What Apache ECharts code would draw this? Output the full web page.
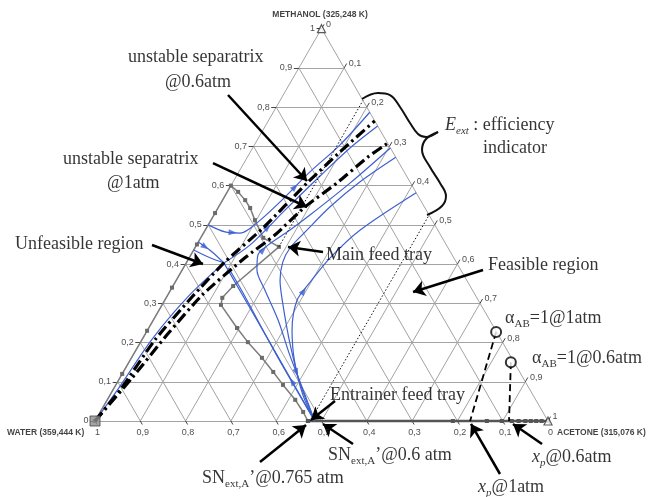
<!DOCTYPE html>
<html>
<head>
<meta charset="utf-8">
<script src="https://cdn.jsdelivr.net/npm/echarts@6/dist/echarts.min.js"></script>
<style>
  html, body { margin: 0; padding: 0; background: #fff; }
  #chart { width: 649px; height: 497px; }
</style>
</head>
<body>
<div id="chart"></div>
<script>
// Compositions are [x_acetone, x_methanol]; x_water = 1 - both.
const ticks = [0, 0.1, 0.2, 0.3, 0.4, 0.5, 0.6, 0.7, 0.8, 0.9, 1];
const tickText = ['0', '0,1', '0,2', '0,3', '0,4', '0,5', '0,6', '0,7', '0,8', '0,9', '1'];

// Column composition profile (grey squares)
const grayProfile = [
  [0, 0], [0, 0.12], [0, 0.23], [0, 0.34], [0, 0.45], [0, 0.53], [0, 0.60],
  [0.024, 0.584], [0.050, 0.563], [0.071, 0.543], [0.097, 0.512], [0.138, 0.467], [0.184, 0.444],
  [0.133, 0.344], [0.124, 0.314], [0.130, 0.296],
  [0.195, 0.237], [0.237, 0.201], [0.288, 0.161], [0.331, 0.125], [0.369, 0.092],
  [0.415, 0.054], [0.448, 0.023], [0.470, 0.0]
];
const baseProfile = [
  [0.47, 0], [0.79, 0], [0.865, 0], [0.898, 0], [0.92, 0], [0.935, 0],
  [0.95, 0], [0.962, 0], [0.974, 0], [0.986, 0], [1, 0]
];

// Unstable separatrices
const separatrix06 = [
  [0, 0], [0.016, 0.079], [0.029, 0.207], [0.056, 0.316], [0.084, 0.405],
  [0.125, 0.492], [0.165, 0.607], [0.198, 0.686], [0.235, 0.765]
];
const separatrix1 = [
  [0, 0], [0.027, 0.110], [0.049, 0.219], [0.076, 0.321], [0.123, 0.416],
  [0.160, 0.474], [0.191, 0.546], [0.231, 0.607], [0.266, 0.673], [0.292, 0.708]
];

// Residue / extractive section curves
const blueEdge = [[0, 0], [0.010, 0.08], [0.022, 0.21], [0.048, 0.32], [0.083, 0.403]];
const blueFromEdgeA = [[0, 0.456], [0.043, 0.431], [0.083, 0.403]];
const blueFromEdgeB = [[0, 0.436], [0.046, 0.416], [0.083, 0.403]];
const blueUpper = [
  [0, 0.500], [0.046, 0.482], [0.081, 0.479], [0.106, 0.507], [0.129, 0.558],
  [0.157, 0.635], [0.189, 0.704], [0.213, 0.787]
];
const blueMid = [[0.083, 0.403], [0.118, 0.449], [0.151, 0.538], [0.185, 0.625], [0.215, 0.696], [0.248, 0.752]];
const blueF1 = [[0.485, 0], [0.285, 0.201], [0.083, 0.403]];
const blueF1b = [[0.485, 0], [0.31, 0.175], [0.16, 0.33], [0.10, 0.39]];
const blueF2 = [
  [0.485, 0], [0.420, 0.079], [0.346, 0.168], [0.275, 0.258], [0.208, 0.334], [0.165, 0.385],
  [0.148, 0.423], [0.158, 0.449], [0.187, 0.487], [0.212, 0.525], [0.260, 0.607], [0.304, 0.696]
];
const blueF2b = [
  [0.485, 0], [0.404, 0.097], [0.334, 0.194], [0.267, 0.296], [0.229, 0.359], [0.212, 0.405],
  [0.210, 0.441], [0.223, 0.482], [0.246, 0.546], [0.280, 0.609], [0.328, 0.672]
];
const blueF3 = [
  [0.485, 0], [0.426, 0.066], [0.362, 0.156], [0.319, 0.232], [0.292, 0.308],
  [0.298, 0.354], [0.311, 0.416], [0.342, 0.487], [0.418, 0.582]
];
const blueCurves = [blueEdge, blueFromEdgeA, blueFromEdgeB, blueUpper, blueMid, blueF1, blueF1b, blueF2, blueF2b, blueF3];
const curveArrows = [
  { curve: blueUpper, seg: 1, back: false },
  { curve: blueUpper, seg: 4, back: false },
  { curve: blueMid, seg: 1, back: false },
  { curve: blueF3, seg: 4, back: false },
  { curve: blueF2, seg: 6, back: false },
  { curve: blueF1, seg: 0, back: false },
  { curve: blueF2, seg: 1, back: true },
  { curve: blueFromEdgeA, seg: 0, back: false }
];

// Main feed / entrainer feed bounds of the extractive section
const feedLine = [[0.184, 0.444], [0.183, 0.817]];
const entrainerLine = [[0.475, 0], [0.475, 0.525]];

// Distillate points and alpha_AB = 1 curve ends
const xp1atm = [[0.772, 0.227], [0.828, 0]];
const xp06atm = [[0.843, 0.150], [0.914, 0]];
const alphaPoints = [[0.772, 0.227], [0.843, 0.150]];

// Annotation layout, in plane units (side of the triangle = 1)
const annotationArrows = [
  [[0.2936, 0.7196], [0.4680, 0.5298]],
  [[0.2605, 0.5695], [0.4680, 0.4724]],
  [[0.1258, 0.3885], [0.2384, 0.3466]],
  [[0.5033, 0.3731], [0.4260, 0.3841]],
  [[0.8565, 0.3333], [0.7020, 0.2848]],
  [[0.5298, 0.0442], [0.4768, 0.0022]],
  [[0.3642, -0.0905], [0.4658, -0.0088]],
  [[0.5695, -0.0508], [0.5033, -0.0066]],
  [[0.8940, -0.1170], [0.8300, -0.0066]],
  [[0.9868, -0.0508], [0.9227, -0.0066]]
];
const braceTop = [
  [0.5894, 0.7108], [0.6247, 0.7241], [0.6512, 0.7196], [0.6733, 0.6932], [0.6954, 0.6578],
  [0.7130, 0.6336], [0.7307, 0.6269], [0.7572, 0.6380]
];
const braceBottom = [
  [0.7572, 0.6380], [0.7307, 0.6225], [0.7219, 0.5982], [0.7395, 0.5607], [0.7616, 0.5254],
  [0.7748, 0.4967], [0.7660, 0.4746], [0.7329, 0.4547]
];
const annotations = [
  { text: '{t|unstable separatrix}', at: [0.0728, 0.8035] },
  { text: '{t|@0.6atm}', at: [0.1545, 0.7483] },
  { text: '{t|unstable separatrix}', at: [-0.0706, 0.5784] },
  { text: '{t|@1atm}', at: [0.0265, 0.5254] },
  { text: '{t|Unfeasible region}', at: [-0.1766, 0.3907] },
  { text: '{t|Main feed tray}', at: [0.5099, 0.3664] },
  { text: '{t|Feasible region}', at: [0.8675, 0.3444] },
  { text: '{t|Entrainer feed tray}', at: [0.5188, 0.0574] },
  { text: '{ti|E}{si|ext}{t| : efficiency}', at: [0.7726, 0.6534] },
  { text: '{t|indicator}', at: [0.8565, 0.6026] },
  { text: '{t|α}{s|AB}{t|=1@1atm}', at: [0.9051, 0.2274] },
  { text: '{t|α}{s|AB}{t|=1@0.6atm}', at: [0.9647, 0.1391] },
  { text: '{t|SN}{s|ext,A}{t|’@0.6 atm}', at: [0.5143, -0.0751] },
  { text: '{t|SN}{s|ext,A}{t|’@0.765 atm}', at: [0.2362, -0.1258] },
  { text: '{ti|x}{si|p}{t|@0.6atm}', at: [0.9647, -0.0795] },
  { text: '{ti|x}{si|p}{t|@1atm}', at: [0.8455, -0.1457] }
];
const vertexNames = [
  { text: 'METHANOL (325,248 K)', at: [0.4967, 0.8962], align: 'center' },
  { text: 'WATER (359,444 K)', at: [-0.1943, -0.0265], align: 'left' },
  { text: 'ACETONE (315,076 K)', at: [1.0199, -0.0265], align: 'left' }
];

// ---- geometry ----
const SQ3 = Math.sqrt(3);
const SIDE = 453;           // px length of one side of the triangle
const ORIGIN = [95, 421];   // px position of the water vertex
const WIDTH = 649, HEIGHT = 497;
const toXY = ([a, m]) => [a + m / 2, m * SQ3 / 2];
const px = v => v / SIDE;

const gridSegs = [];
ticks.filter(t => t < 1).forEach(t => {
  gridSegs.push({ coords: [toXY([0, t]), toXY([1 - t, t])] });       // methanol = t
  gridSegs.push({ coords: [toXY([t, 0]), toXY([t, 1 - t])] });       // acetone = t
  gridSegs.push({ coords: [toXY([1 - t, 0]), toXY([0, 1 - t])] });   // water = t
});

const TL = px(5);
const tickSegs = [];
const tickLabelsLeft = [], tickLabelsRight = [], tickLabelsBottom = [];
ticks.forEach((t, i) => {
  const pL = toXY([0, t]);
  tickSegs.push({ coords: [pL, [pL[0] - TL, pL[1]]] });
  tickLabelsLeft.push({ value: [pL[0] - TL - px(1.5), pL[1]], name: tickText[i] });

  const pR = toXY([t, 1 - t]);
  const eR = [pR[0] + TL * 0.5, pR[1] + TL * SQ3 / 2];
  tickSegs.push({ coords: [pR, eR] });
  tickLabelsRight.push({ value: [eR[0] + px(2), eR[1]], name: tickText[i] });

  const pB = toXY([1 - t, 0]);
  const eB = [pB[0] + TL * 0.4, pB[1] - TL * 0.7];
  tickSegs.push({ coords: [pB, eB] });
  tickLabelsBottom.push({ value: [pB[0] + px(2.5), pB[1] - px(12)], name: tickText[i] });
});

const arrowMarks = curveArrows.map(({ curve, seg, back }) => {
  const p = toXY(curve[seg]), q = toXY(curve[seg + 1]);
  let ang = Math.atan2(q[1] - p[1], q[0] - p[0]) * 180 / Math.PI;
  if (back) ang += 180;
  return { value: [(p[0] + q[0]) / 2, (p[1] + q[1]) / 2], symbolRotate: ang - 90 };
});

const BLUE = '#3e60cf';
const INK = '#000';
const serif = 'Liberation Serif';
const sans = 'Liberation Sans';

const plainLine = (data, style, extra) => Object.assign({
  type: 'line', data: data.map(toXY), showSymbol: false, clip: false, silent: true,
  lineStyle: style, animation: false
}, extra || {});

const textSeries = (data, labelOpts, rich) => ({
  type: 'scatter', data, symbol: 'circle', symbolSize: 0.1, clip: false, silent: true,
  itemStyle: { color: 'rgba(0,0,0,0)' }, animation: false, z: 10,
  label: Object.assign({ show: true, formatter: p => p.name, rich: rich || {} }, labelOpts)
});

const richText = {
  t: { fontFamily: serif, fontSize: 18, color: INK, lineHeight: 26 },
  ti: { fontFamily: serif, fontSize: 18, fontStyle: 'italic', color: INK, lineHeight: 26 },
  s: { fontFamily: serif, fontSize: 11, color: INK, lineHeight: 12, padding: [12, 0, 0, 0] },
  si: { fontFamily: serif, fontSize: 11, fontStyle: 'italic', color: INK, lineHeight: 12, padding: [12, 0, 0, 0] }
};

const series = [
  { type: 'lines', coordinateSystem: 'cartesian2d', data: gridSegs, silent: true, animation: false,
    lineStyle: { color: '#a3a3a3', width: 1, opacity: 1 }, z: 1 },
  { type: 'lines', coordinateSystem: 'cartesian2d', data: tickSegs, silent: true, animation: false,
    lineStyle: { color: '#444', width: 1, opacity: 1 }, z: 1 },

  plainLine(grayProfile, { color: '#7d7d7d', width: 1.5 }, {
    showSymbol: true, symbol: 'rect', symbolSize: 4, itemStyle: { color: '#6b6b6b' }, z: 2 }),
  plainLine(baseProfile, { color: '#555', width: 2.5 }, {
    showSymbol: true, symbol: 'rect', symbolSize: 4, itemStyle: { color: '#555' }, z: 2 }),

  ...blueCurves.map(c => plainLine(c, { color: BLUE, width: 1.2 }, { smooth: 0.3, z: 3 })),
  { type: 'scatter', data: arrowMarks, symbol: 'triangle', symbolSize: [6, 8], clip: false,
    silent: true, animation: false, itemStyle: { color: BLUE }, z: 3 },

  plainLine(separatrix06, { color: '#000', width: 3.2, type: [11, 4, 2.5, 4] }, { smooth: 0.2, z: 4 }),
  plainLine(separatrix1, { color: '#000', width: 3.2, type: [11, 4, 2.5, 4] }, { smooth: 0.2, z: 4 }),

  plainLine(feedLine, { color: '#111', width: 1, type: [1.5, 2] }, { z: 4 }),
  plainLine(entrainerLine, { color: '#111', width: 1, type: [1.5, 2] }, { z: 4 }),
  plainLine(xp1atm, { color: '#000', width: 1.8, type: [7, 4] }, { z: 4 }),
  plainLine(xp06atm, { color: '#000', width: 1.8, type: [7, 4] }, { z: 4 }),

  { type: 'scatter', data: alphaPoints.map(toXY), symbol: 'circle', symbolSize: 10, clip: false,
    silent: true, animation: false, itemStyle: { color: '#fff', borderColor: '#000', borderWidth: 2 }, z: 6 },
  { type: 'scatter', data: [toXY([0, 0])], symbol: 'rect', symbolSize: 10, clip: false, silent: true,
    animation: false, itemStyle: { color: '#8e8e8e', borderColor: '#444', borderWidth: 1 }, z: 6 },
  { type: 'scatter', data: [toXY([0, 1]), toXY([1, 0])], symbol: 'triangle', symbolSize: 8, clip: false,
    silent: true, animation: false, itemStyle: { color: '#fff', borderColor: '#333', borderWidth: 1.2 }, z: 6 },

  { type: 'lines', coordinateSystem: 'cartesian2d', silent: true, animation: false, z: 7,
    data: annotationArrows.map(c => ({ coords: c })), symbol: ['none', 'arrow'], symbolSize: 12,
    lineStyle: { color: '#000', width: 2.5, opacity: 1 } },
  { type: 'line', data: braceTop, smooth: 0.4, showSymbol: false, clip: false, silent: true, animation: false,
    lineStyle: { color: '#111', width: 2 }, z: 7 },
  { type: 'line', data: braceBottom, smooth: 0.4, showSymbol: false, clip: false, silent: true, animation: false,
    lineStyle: { color: '#111', width: 2 }, z: 7 },

  textSeries(annotations.map(a => ({ value: a.at, name: a.text })),
    { position: 'right', distance: 0, align: 'left', verticalAlign: 'middle' }, richText),
  textSeries(tickLabelsLeft, { position: 'left', distance: 0, align: 'right', verticalAlign: 'middle',
    fontFamily: sans, fontSize: 9, color: '#222' }),
  textSeries(tickLabelsRight, { position: 'right', distance: 0, align: 'left', verticalAlign: 'middle',
    fontFamily: sans, fontSize: 9, color: '#222' }),
  textSeries(tickLabelsBottom, { position: 'inside', align: 'center', verticalAlign: 'middle',
    fontFamily: sans, fontSize: 9, color: '#222' }),
  textSeries(vertexNames.filter(v => v.align === 'center').map(v => ({ value: v.at, name: v.text })),
    { position: 'inside', align: 'center', verticalAlign: 'middle', fontFamily: sans, fontSize: 8.5,
      fontWeight: 'bold', color: '#111' }),
  textSeries(vertexNames.filter(v => v.align === 'left').map(v => ({ value: v.at, name: v.text })),
    { position: 'right', distance: 0, align: 'left', verticalAlign: 'middle', fontFamily: sans, fontSize: 8.5,
      fontWeight: 'bold', color: '#111' })
];

const chart = echarts.init(document.getElementById('chart'), null, { renderer: 'canvas' });
chart.setOption({
  animation: false,
  backgroundColor: '#fff',
  grid: { left: 0, right: 0, top: 0, bottom: 0, containLabel: false },
  xAxis: { type: 'value', min: -ORIGIN[0] / SIDE, max: (WIDTH - ORIGIN[0]) / SIDE, show: false },
  yAxis: { type: 'value', min: -(HEIGHT - ORIGIN[1]) / SIDE, max: ORIGIN[1] / SIDE, show: false },
  series
});
</script>
</body>
</html>
